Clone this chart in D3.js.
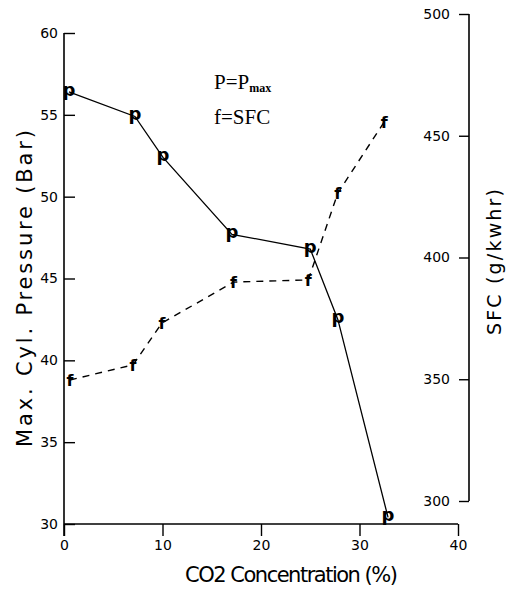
<!DOCTYPE html>
<html>
<head>
<meta charset="utf-8">
<script src="https://cdnjs.cloudflare.com/ajax/libs/d3/7.8.5/d3.min.js"></script>
<style>
  body { margin: 0; background: #fff; }
  svg { display: block; }
  .axis text { font-family: "DejaVu Sans", sans-serif; font-size: 14px; fill: #000; }
  .axis line { stroke: #000; stroke-width: 1.4; }
  .lbl { font-family: "DejaVu Sans", sans-serif; fill: #000; }
</style>
</head>
<body>
<div id="chart"></div>
<script>
// CO2 concentration (%) for each measured point
var co2P = [0.5, 7.2, 10.05, 17.05, 25.0, 27.8, 32.9];
var pmax = [56.4, 54.9, 52.4, 47.7, 46.8, 42.5, 30.4];   // Max. cyl. pressure (bar)
var co2F = [0.6, 7.0, 9.95, 17.2, 24.8, 27.8, 32.5];
var sfc  = [349.7, 355.9, 373.1, 389.9, 390.8, 426.5, 455.6]; // g/kwhr

var xTicks = [0, 10, 20, 30, 40];
var leftTicks = [30, 35, 40, 45, 50, 55, 60];
var rightTicks = [300, 350, 400, 450, 500];

var W = 508, H = 591;
var svg = d3.select('#chart').append('svg').attr('width', W).attr('height', H);

var x = d3.scaleLinear().domain([0, 40]).range([64, 458]);
var yL = d3.scaleLinear().domain([30, 60]).range([524, 33]);
var yR = d3.scaleLinear().domain([300, 500]).range([501, 14]);

// left axis, ticks pointing into the plot
var gl = svg.append('g').attr('class', 'axis')
  .attr('transform', 'translate(' + x(0) + ',0)')
  .call(d3.axisLeft(yL).tickValues(leftTicks).tickSize(-11).tickPadding(6).tickFormat(d3.format('d')));
gl.select('.domain').remove();
svg.append('line')
  .attr('x1', x(0)).attr('x2', x(0))
  .attr('y1', yL(60)).attr('y2', yL(30) + 12)
  .attr('stroke', '#000').attr('stroke-width', 1.6);

// bottom axis
var gb = svg.append('g').attr('class', 'axis')
  .attr('transform', 'translate(0,' + yL(30) + ')')
  .call(d3.axisBottom(x).tickValues(xTicks).tickSize(12).tickPadding(4).tickFormat(d3.format('d')));
gb.select('.domain').remove();
svg.append('line')
  .attr('x1', x(0)).attr('x2', x(40))
  .attr('y1', yL(30)).attr('y2', yL(30))
  .attr('stroke', '#000').attr('stroke-width', 1.6);

// right axis (SFC), ticks and labels on its left
var gr = svg.append('g').attr('class', 'axis')
  .attr('transform', 'translate(469,0)')
  .call(d3.axisLeft(yR).tickValues(rightTicks).tickSize(10).tickPadding(9).tickFormat(d3.format('d')));
gr.select('.domain').remove();
svg.append('line')
  .attr('x1', 469).attr('x2', 469)
  .attr('y1', yR(500)).attr('y2', yR(300))
  .attr('stroke', '#000').attr('stroke-width', 1.6);

var pData = co2P.map(function(c, i) { return { x: c, y: pmax[i] }; });
var fData = co2F.map(function(c, i) { return { x: c, y: sfc[i] }; });

svg.append('path')
  .datum(pData)
  .attr('fill', 'none').attr('stroke', '#000').attr('stroke-width', 1.3)
  .attr('d', d3.line().x(d => x(d.x)).y(d => yL(d.y)));

svg.append('path')
  .datum(fData)
  .attr('fill', 'none').attr('stroke', '#000').attr('stroke-width', 1.4)
  .attr('stroke-dasharray', '7,6')
  .attr('d', d3.line().x(d => x(d.x)).y(d => yR(d.y)));

// letter markers
svg.selectAll('text.pm').data(pData).enter().append('text')
  .attr('class', 'pm')
  .attr('x', d => x(d.x)).attr('y', d => yL(d.y) + 4)
  .attr('text-anchor', 'middle')
  .attr('font-family', 'DejaVu Sans').attr('font-weight', 'bold').attr('font-size', 18)
  .text('p');

svg.selectAll('text.fm').data(fData).enter().append('text')
  .attr('class', 'fm')
  .attr('x', d => x(d.x)).attr('y', d => yR(d.y) + 6)
  .attr('text-anchor', 'middle')
  .attr('font-family', 'DejaVu Sans').attr('font-weight', 'bold').attr('font-size', 16)
  .text('f');

// legend
var leg = svg.append('g').attr('font-family', 'Liberation Serif').attr('font-size', 21);
var l1 = leg.append('text').attr('x', 214).attr('y', 89);
l1.append('tspan').text('P=P');
l1.append('tspan').attr('font-size', 12).attr('font-weight', 'bold').attr('dy', 3).text('max');
leg.append('text').attr('x', 214).attr('y', 124).text('f=SFC');

// axis titles
svg.append('text').attr('class', 'lbl')
  .attr('transform', 'translate(32,447) rotate(-90)')
  .attr('font-size', 21)
  .attr('textLength', 317).attr('lengthAdjust', 'spacing')
  .text('Max. Cyl. Pressure (Bar)');

svg.append('text').attr('class', 'lbl')
  .attr('x', 185).attr('y', 582)
  .attr('font-size', 21)
  .attr('textLength', 213).attr('lengthAdjust', 'spacing')
  .text('CO2 Concentration (%)');

svg.append('text').attr('class', 'lbl')
  .attr('transform', 'translate(501,335) rotate(-90)')
  .attr('font-size', 19)
  .attr('textLength', 146).attr('lengthAdjust', 'spacing')
  .text('SFC (g/kwhr)');
</script>
</body>
</html>
